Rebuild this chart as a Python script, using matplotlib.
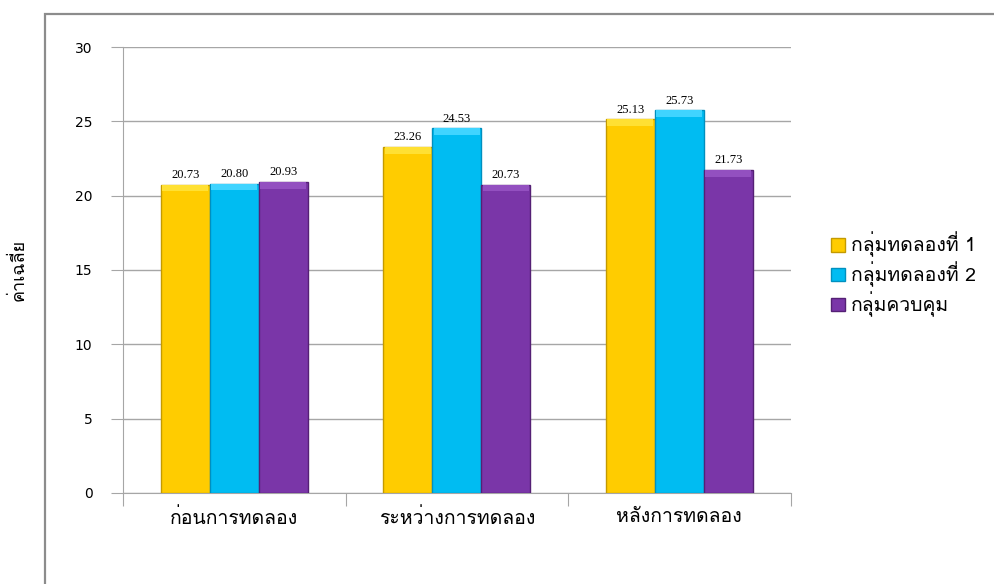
import numpy as np
import matplotlib.pyplot as plt
from matplotlib.patches import Rectangle

# data
phases = ['ก่อนการทดลอง', 'ระหว่างการทดลอง', 'หลังการทดลอง']
series_names = ['กลุ่มทดลองที่ 1', 'กลุ่มทดลองที่ 2', 'กลุ่มควบคุม']
exp1 = [20.73, 23.26, 25.13]
exp2 = [20.80, 24.53, 25.73]
control = [20.93, 20.73, 21.73]
yticks = [0, 5, 10, 15, 20, 25, 30]

thai_fonts = ['Loma', 'Noto Sans Thai', 'DejaVu Sans']

fig = plt.figure(figsize=(9.95, 5.84), dpi=100)
ax = fig.add_axes([0.1236, 0.156, 0.671, 0.7635])

# outer chart-area border (cut off at right and bottom)
fig.patches.append(Rectangle((0.045, -0.05), 1.0, 1.026, transform=fig.transFigure,
                             fill=False, edgecolor='#8c8c8c', linewidth=1.6))

x = np.arange(len(phases))
w = 0.22
colors = ['#FFCC00', '#00BCF2', '#7A36A8']
tops = ['#FFE033', '#40D4FF', '#9350C0']
edges = ['#C49A00', '#0090BF', '#552075']
bevel = 0.45
for i, (vals, c, t, e, name) in enumerate(zip([exp1, exp2, control], colors, tops, edges, series_names)):
    pos = x + (i - 1) * w
    bars = ax.bar(pos, vals, w, color=c, edgecolor=e, linewidth=1.0, label=name, zorder=3)
    # lighter top bevel to hint at the 3D look
    ax.bar(pos, [bevel] * len(vals), w * 0.94, bottom=np.array(vals) - bevel,
           color=t, linewidth=0, zorder=4)
    for b, v in zip(bars, vals):
        ax.text(b.get_x() + b.get_width() / 2, v + 0.25, f'{v:.2f}', ha='center', va='bottom',
                fontsize=9, family='Liberation Serif', zorder=5)

ax.set_xlim(-0.5, 2.5)
ax.set_ylim(0, 30)
ax.set_yticks(yticks)
ax.yaxis.grid(True, color='#a6a6a6', linewidth=1.0, zorder=0)
ax.set_xticks([-0.5, 0.5, 1.5, 2.5])
ax.set_xticklabels([])
ax.set_xticks(x, minor=True)
ax.set_xticklabels(phases, minor=True, family=thai_fonts, fontsize=14)
ax.tick_params(axis='x', which='major', length=9, color='#a6a6a6', direction='out')
ax.tick_params(axis='x', which='minor', length=0, pad=11)
ax.tick_params(axis='y', length=9, color='#a6a6a6', labelsize=10, pad=13)
for s in ['top', 'right']:
    ax.spines[s].set_visible(False)
ax.spines['left'].set_color('#a6a6a6')
ax.spines['bottom'].set_color('#a6a6a6')
ax.set_ylabel('ค่าเฉลี่ย', family=thai_fonts, fontsize=13, labelpad=34)

ax.legend(loc='center left', bbox_to_anchor=(1.035, 0.49), frameon=False,
          prop={'family': thai_fonts, 'size': 14},
          handlelength=0.7, handleheight=0.7, labelspacing=0.22, handletextpad=0.3)

fig.savefig('out.png', dpi=100)
